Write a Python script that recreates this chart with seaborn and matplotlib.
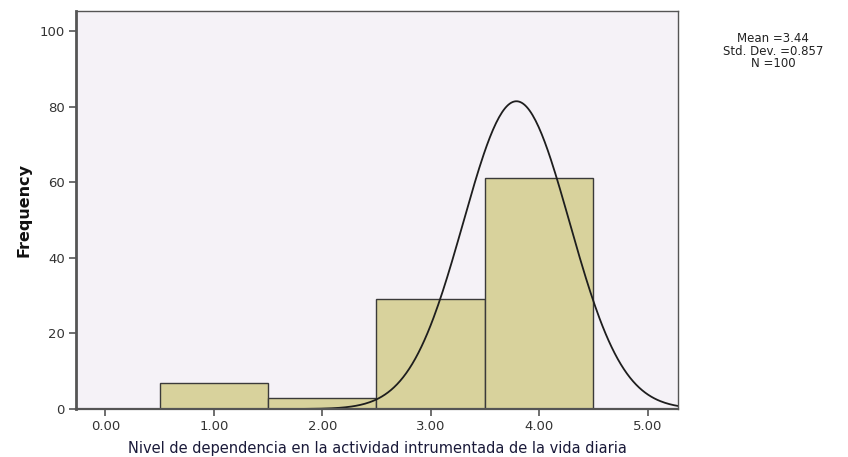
import matplotlib
matplotlib.use("Agg")
import matplotlib.pyplot as plt
import numpy as np
import pandas as pd
import seaborn as sns

# values
levels = [1.0, 2.0, 3.0, 4.0]
counts = [7, 3, 29, 61]
stats_lines = ["Mean =3.44", "Std. Dev. =0.857", "N =100"]
x_ticks = [0, 1, 2, 3, 4, 5]
y_ticks = [0, 20, 40, 60, 80, 100]

# normal curve as drawn in the picture (peak ~82 near 3.79)
curve_n = 100
curve_mean = 3.79
curve_sd = 0.49

sns.set_theme(style="white")
plt.rcParams["font.family"] = ["DejaVu Sans"]

df = pd.DataFrame({"nivel": levels, "freq": counts})

fig = plt.figure(figsize=(8.48, 4.57), dpi=100)
ax = fig.add_axes([0.0896, 0.105, 0.71, 0.871])
ax.set_facecolor("#f5f2f7")

sns.histplot(
    data=df, x="nivel", weights="freq", discrete=True,
    color="#d8d29c", edgecolor="#3a3a3a", linewidth=1.0, alpha=1.0, ax=ax,
)

xs = np.linspace(-0.3, 5.3, 400)
ys = curve_n / (curve_sd * np.sqrt(2 * np.pi)) * np.exp(-0.5 * ((xs - curve_mean) / curve_sd) ** 2)
ax.plot(xs, ys, color="#1e1e1e", linewidth=1.3)

ax.set_xlim(-0.27, 5.28)
ax.set_ylim(0, 105.3)
ax.set_xticks(x_ticks)
ax.set_xticklabels([f"{t:.2f}" for t in x_ticks])
ax.set_yticks(y_ticks)
ax.tick_params(axis="both", direction="out", length=5, width=1.2,
               colors="#555555", labelsize=9.5, labelcolor="#333333", pad=3)
ax.tick_params(left=True, bottom=True)

for side, sp in ax.spines.items():
    sp.set_color("#555555")
    sp.set_linewidth(1.0)
ax.spines["left"].set_linewidth(2.0)
ax.spines["bottom"].set_linewidth(1.6)

ax.set_ylabel("Frequency", fontsize=11.5, fontweight="bold", color="#111111", labelpad=6)
ax.set_xlabel("Nivel de dependencia en la actividad intrumentada de la vida diaria",
              fontsize=10.5, color="#1a1a3a", labelpad=6)

fig.text(0.912, 0.888, "\n".join(stats_lines), ha="center", va="center",
         fontsize=8.5, color="#222222", linespacing=0.95)

fig.savefig("out.png", dpi=100)
